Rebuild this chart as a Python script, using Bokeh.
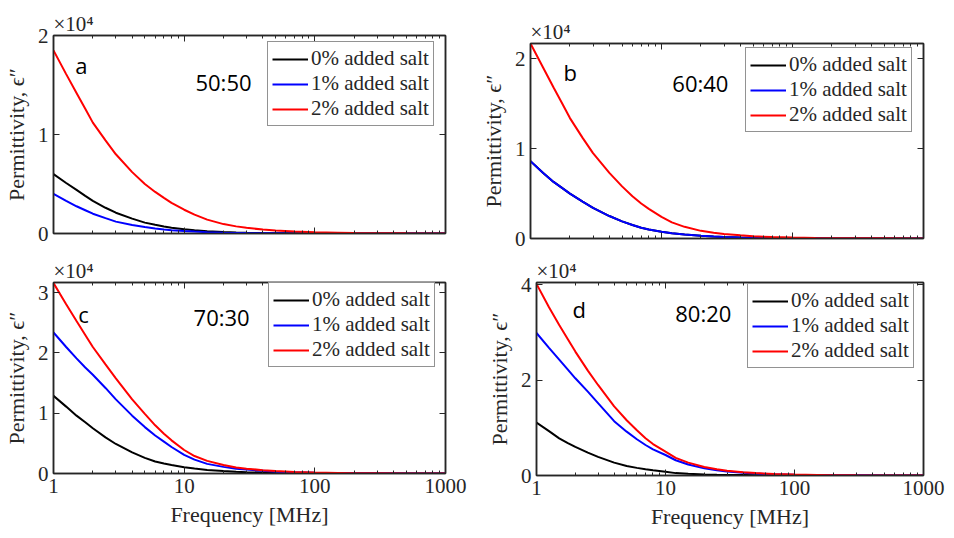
from bokeh.plotting import figure
from bokeh.models import (FixedTicker, LinearAxis, LogAxis, Range1d, Legend,
                          LegendItem, Label, NumeralTickFormatter)
from bokeh.layouts import column, row
from bokeh.embed import file_html
from bokeh.resources import INLINE

# ---------------- data (values in units of 10^4) ----------------
freq_mhz = [1, 1.25, 1.5, 1.75, 2, 2.5, 3, 4, 5, 6, 7, 8, 10, 12, 15, 20, 25,
            30, 40, 50, 70, 100, 150, 200, 300, 500, 1000]
series_labels = ["0% added salt", "1% added salt", "2% added salt"]
series_colors = ["#000000", "#0000FF", "#FF0000"]

# panel a: 50:50
a_salt0 = [0.60, 0.51, 0.44, 0.38, 0.33, 0.26, 0.21, 0.15, 0.11, 0.088, 0.07, 0.058, 0.042, 0.032, 0.022, 0.014, 0.01,
           0.007, 0.004, 0.003, 0.002, 0.001, 0.0007, 0.0005, 0.0003, 0.0002, 0.0001]
a_salt1 = [0.40, 0.33, 0.275, 0.235, 0.20, 0.155, 0.12, 0.085, 0.065, 0.051, 0.04, 0.033, 0.025, 0.019, 0.013, 0.008, 0.006,
           0.004, 0.003, 0.002, 0.001, 0.0006, 0.0004, 0.0003, 0.0002, 0.0001, 0.0]
a_salt2 = [1.85, 1.61, 1.42, 1.26, 1.12, 0.94, 0.80, 0.62, 0.50, 0.42, 0.36, 0.31, 0.24, 0.19, 0.14, 0.095, 0.072,
           0.057, 0.04, 0.03, 0.02, 0.012, 0.008, 0.005, 0.003, 0.002, 0.001]
# panel b: 60:40 (the 0% curve lies under the 1% curve)
b_salt0 = [0.86, 0.73, 0.63, 0.56, 0.50, 0.41, 0.34, 0.25, 0.19, 0.15, 0.12, 0.10, 0.075, 0.058, 0.045, 0.03, 0.022,
           0.017, 0.011, 0.008, 0.005, 0.003, 0.0018, 0.001, 0.0007, 0.0004, 0.0002]
b_salt1 = [0.86, 0.73, 0.63, 0.56, 0.50, 0.41, 0.34, 0.25, 0.19, 0.15, 0.12, 0.10, 0.075, 0.058, 0.045, 0.03, 0.022,
           0.017, 0.011, 0.008, 0.005, 0.003, 0.0018, 0.001, 0.0007, 0.0004, 0.0002]
b_salt2 = [2.17, 1.90, 1.68, 1.50, 1.34, 1.12, 0.95, 0.73, 0.58, 0.47, 0.39, 0.33, 0.24, 0.18, 0.13, 0.085, 0.065,
           0.05, 0.035, 0.025, 0.016, 0.01, 0.006, 0.004, 0.0025, 0.0015, 0.0008]
# panel c: 70:30
c_salt0 = [1.29, 1.11, 0.96, 0.85, 0.75, 0.60, 0.49, 0.35, 0.26, 0.20, 0.165, 0.14, 0.105, 0.082, 0.06, 0.04, 0.029,
           0.022, 0.015, 0.01, 0.006, 0.004, 0.0025, 0.0015, 0.001, 0.0005, 0.0002]
c_salt1 = [2.34, 2.10, 1.91, 1.76, 1.64, 1.42, 1.23, 0.96, 0.77, 0.63, 0.53, 0.44, 0.31, 0.23, 0.16, 0.11, 0.08,
           0.065, 0.045, 0.03, 0.02, 0.012, 0.008, 0.005, 0.003, 0.0015, 0.0008]
c_salt2 = [3.16, 2.81, 2.53, 2.30, 2.10, 1.81, 1.58, 1.23, 0.99, 0.80, 0.66, 0.55, 0.39, 0.29, 0.21, 0.14, 0.10,
           0.08, 0.055, 0.04, 0.025, 0.016, 0.01, 0.006, 0.004, 0.002, 0.001]
# panel d: 80:20
d_salt0 = [1.11, 0.93, 0.78, 0.68, 0.60, 0.48, 0.39, 0.27, 0.20, 0.16, 0.13, 0.11, 0.077, 0.05, 0.035, 0.022, 0.016,
           0.012, 0.008, 0.005, 0.003, 0.002, 0.0012, 0.0008, 0.0005, 0.0003, 0.0001]
d_salt1 = [2.99, 2.68, 2.43, 2.22, 2.04, 1.76, 1.52, 1.14, 0.92, 0.76, 0.64, 0.55, 0.43, 0.32, 0.23, 0.15, 0.11,
           0.085, 0.06, 0.04, 0.025, 0.015, 0.01, 0.006, 0.004, 0.002, 0.001]
d_salt2 = [4.02, 3.53, 3.16, 2.86, 2.60, 2.20, 1.90, 1.45, 1.16, 0.95, 0.78, 0.66, 0.50, 0.37, 0.27, 0.18, 0.13,
           0.10, 0.07, 0.05, 0.03, 0.02, 0.012, 0.007, 0.004, 0.002, 0.001]

x_major = [1, 10, 100, 1000]
x_minor = [2, 3, 4, 5, 6, 7, 8, 9, 20, 30, 40, 50, 60, 70, 80, 90,
           200, 300, 400, 500, 600, 700, 800, 900]

AXC = "#262626"
SERIF = "Liberation Serif"


def style_axis(ax, ticker, show_labels):
    ax.ticker = ticker
    ax.major_tick_in = 6
    ax.major_tick_out = 0
    ax.minor_tick_in = 3
    ax.minor_tick_out = 0
    ax.axis_line_color = AXC
    ax.axis_line_width = 1.5
    ax.major_tick_line_color = AXC
    ax.minor_tick_line_color = AXC
    ax.major_label_text_font = SERIF
    ax.major_label_text_color = AXC
    if show_labels:
        ax.major_label_text_font_size = "21px"
        ax.major_label_standoff = 5
    else:
        ax.major_label_text_font_size = "1px"
        ax.major_label_standoff = 0
        ax.major_label_overrides = {t: "" for t in ticker.ticks}


def make_panel(width, height, bl, br, bt, bb, ymax, yticks, series,
               letter, ratio, letter_xy, ratio_xy, legend_loc, show_x):
    p = figure(width=width, height=height, x_axis_type="log",
               x_range=Range1d(1, 1000), y_range=Range1d(0, ymax),
               output_backend="svg", toolbar_location=None,
               min_border_left=bl, min_border_right=br,
               min_border_top=bt, min_border_bottom=bb)
    p.grid.visible = False
    p.outline_line_color = AXC
    p.outline_line_width = 1.5
    p.background_fill_color = "white"
    p.border_fill_color = "white"

    xt = FixedTicker(ticks=x_major, minor_ticks=x_minor)
    yt = FixedTicker(ticks=yticks, minor_ticks=[])

    bx = p.xaxis[0]
    style_axis(bx, xt, show_x)
    if show_x:
        bx.formatter = NumeralTickFormatter(format="0")
        bx.axis_label = "Frequency [MHz]"
        bx.axis_label_text_font = SERIF
        bx.axis_label_text_font_size = "22px"
        bx.axis_label_text_font_style = "normal"
        bx.axis_label_text_color = AXC
        bx.axis_label_standoff = 6

    ly = p.yaxis[0]
    style_axis(ly, yt, True)
    ly.axis_label = "Permittivity, \u03f5\u2033"
    ly.axis_label_text_font = SERIF
    ly.axis_label_text_font_size = "22px"
    ly.axis_label_text_font_style = "normal"
    ly.axis_label_text_color = AXC
    ly.axis_label_standoff = 6

    top = LogAxis()
    style_axis(top, xt, False)
    p.add_layout(top, "above")
    right = LinearAxis()
    style_axis(right, yt, False)
    p.add_layout(right, "right")

    p.title.text = "\u00d710\u2074"
    p.title.text_font = SERIF
    p.title.text_font_size = "21px"
    p.title.text_font_style = "normal"
    p.title.text_color = AXC
    p.title.align = "left"
    p.title.standoff = 0
    p.title.offset = 0

    items = []
    for ys, lab, col in zip(series, series_labels, series_colors):
        r = p.line(freq_mhz, ys, line_color=col, line_width=2)
        items.append(LegendItem(label=lab, renderers=[r]))

    leg = Legend(items=items, location=legend_loc)
    leg.label_text_font = SERIF
    leg.label_text_font_size = "21px"
    leg.label_text_line_height = 1.0
    leg.label_text_color = AXC
    leg.glyph_width = 36
    leg.glyph_height = 22
    leg.label_height = 22
    leg.label_standoff = 3
    leg.spacing = 0
    leg.padding = 4
    leg.margin = 0
    leg.border_line_color = AXC
    leg.border_line_width = 1.5
    leg.background_fill_alpha = 1
    p.add_layout(leg)

    p.add_layout(Label(x=letter_xy[0], y=letter_xy[1], text=letter,
                       text_font="Open Sans", text_font_size="22px",
                       text_baseline="middle", text_align="left",
                       text_color="#000000"))
    p.add_layout(Label(x=ratio_xy[0], y=ratio_xy[1], text=ratio,
                       text_font="Open Sans", text_font_size="22px",
                       text_baseline="middle", text_align="left",
                       text_color="#000000"))
    return p


pa = make_panel(477, 256, 53, 32, 35, 23, 2.0, [0, 1, 2],
                [a_salt0, a_salt1, a_salt2], "a", "50:50",
                (1.47, 1.70), (12.2, 1.535), (214, 107), False)
pb = make_panel(477, 256, 53, 31, 43, 18, 2.17, [0, 1, 2],
                [b_salt0, b_salt1, b_salt2], "b", "60:40",
                (1.79, 1.85), (12.1, 1.735), (215, 106), False)
pc = make_panel(477, 282, 53, 32, 21, 65, 3.17, [0, 1, 2, 3],
                [c_salt0, c_salt1, c_salt2], "c", "70:30",
                (1.55, 2.64), (11.8, 2.59), (215, 106), True)
pd_ = make_panel(477, 282, 59, 31, 26, 63, 4.05, [0, 2, 4],
                 [d_salt0, d_salt1, d_salt2], "d", "80:20",
                 (1.90, 3.50), (11.9, 3.40), (211, 107), True)

layout = column(row(column(pa), column(pb)), row(column(pc), column(pd_)))

open("out.html", "w").write(file_html(layout, INLINE))
